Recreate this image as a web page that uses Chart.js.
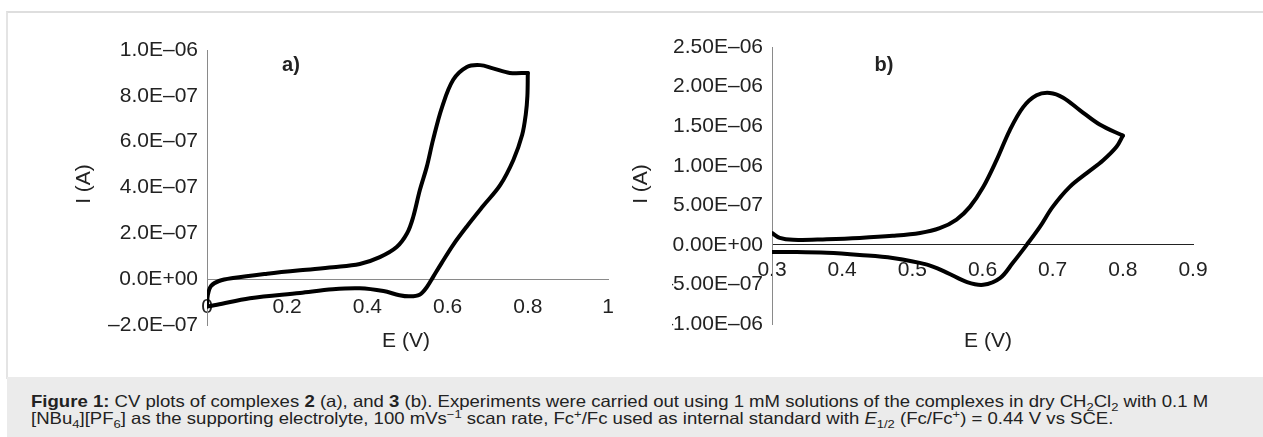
<!DOCTYPE html>
<html>
<head>
<meta charset="utf-8">
<script src="https://cdn.jsdelivr.net/npm/chart.js@4.4.1/dist/chart.umd.min.js"></script>
<style>
  html, body { margin: 0; padding: 0; background: #fff; }
  body { width: 1263px; height: 437px; position: relative; overflow: hidden; font-family: "Liberation Sans", Arial, sans-serif; }
  #frame { position: absolute; left: 6px; top: 11px; width: 1257px; height: 366px; border-top: 2px solid #dedede; border-left: 2px solid #e4e4e4; }
  canvas { position: absolute; top: 0; }
  #cvA { left: 0; }
  #cvB { left: 620px; }
  #caption { position: absolute; left: 7px; top: 377px; right: 0; bottom: 0; background: #ebebeb;
    color: #222; font-size: 16.5px; line-height: 16.5px; padding: 16px 0 0 24px; box-sizing: border-box; white-space: nowrap; }
  #caption .txt { display: inline-block; transform: scaleX(1.125); transform-origin: 0 0; }
  #caption sub, #caption sup { font-size: 70%; line-height: 0; }
</style>
</head>
<body>
<div id="frame"></div>
<canvas id="cvA" width="640" height="377"></canvas>
<canvas id="cvB" width="643" height="377"></canvas>
<div id="caption"><span class="txt"><b>Figure 1:</b> CV plots of complexes <b>2</b> (a), and <b>3</b> (b). Experiments were carried out using 1 mM solutions of the complexes in dry CH<sub>2</sub>Cl<sub>2</sub> with 0.1 M<br>[NBu<sub>4</sub>][PF<sub>6</sub>] as the supporting electrolyte, 100 mVs<sup>&minus;1</sup> scan rate, Fc<sup>+</sup>/Fc used as internal standard with <i>E</i><sub>1/2</sub> (Fc/Fc<sup>+</sup>) = 0.44 V vs SCE.</span></div>
<script>
// complex 2 (a) - forward scan, E in V, I in A
var aFwdE = [0.0, 0.002, 0.01, 0.03, 0.065, 0.15, 0.232, 0.314, 0.381, 0.431, 0.473, 0.499, 0.514, 0.531, 0.548, 0.564, 0.586, 0.614, 0.648, 0.681, 0.713, 0.755, 0.8];
var aFwdI = [-1.15e-7, -0.7e-7, -0.3e-7, -0.08e-7, 0.05e-7, 0.24e-7, 0.39e-7, 0.52e-7, 0.66e-7, 0.96e-7, 1.4e-7, 2.0e-7, 2.7e-7, 3.9e-7, 4.9e-7, 6.1e-7, 7.5e-7, 8.7e-7, 9.26e-7, 9.34e-7, 9.2e-7, 9.0e-7, 9.0e-7];
// complex 2 (a) - reverse scan
var aRevE = [0.8, 0.799, 0.795, 0.786, 0.764, 0.731, 0.689, 0.648, 0.614, 0.585, 0.564, 0.548, 0.53, 0.505, 0.48, 0.44, 0.381, 0.314, 0.232, 0.107, 0.025, 0.0];
var aRevI = [9.0e-7, 8.0e-7, 7.2e-7, 6.3e-7, 5.2e-7, 4.1e-7, 3.2e-7, 2.3e-7, 1.5e-7, 0.7e-7, 0.1e-7, -0.35e-7, -0.68e-7, -0.75e-7, -0.7e-7, -0.52e-7, -0.4e-7, -0.44e-7, -0.6e-7, -0.83e-7, -1.12e-7, -1.2e-7];

// complex 3 (b)
var bFwdE = [0.3, 0.311, 0.33, 0.378, 0.425, 0.472, 0.511, 0.539, 0.563, 0.582, 0.601, 0.62, 0.639, 0.658, 0.677, 0.696, 0.715, 0.739, 0.767, 0.8];
var bFwdI = [1.5e-7, 0.88e-7, 0.63e-7, 0.72e-7, 0.88e-7, 1.14e-7, 1.5e-7, 2.1e-7, 3.2e-7, 4.8e-7, 7.3e-7, 1.07e-6, 1.45e-6, 1.74e-6, 1.89e-6, 1.92e-6, 1.86e-6, 1.70e-6, 1.52e-6, 1.38e-6];
var bRevE = [0.8, 0.791, 0.772, 0.749, 0.724, 0.7, 0.682, 0.663, 0.643, 0.625, 0.601, 0.578, 0.549, 0.521, 0.472, 0.425, 0.378, 0.33, 0.3];
var bRevI = [1.38e-6, 1.24e-6, 1.07e-6, 0.91e-6, 0.73e-6, 0.48e-6, 0.23e-6, 0.0, -2.3e-7, -4.2e-7, -5.05e-7, -4.7e-7, -3.5e-7, -2.5e-7, -1.65e-7, -1.27e-7, -1.0e-7, -0.9e-7, -0.9e-7];

// axis ticks
var aXTicks = [0, 0.2, 0.4, 0.6, 0.8, 1];
var aXLabels = ['0', '0.2', '0.4', '0.6', '0.8', '1'];
var aYTicks = [-2e-7, 0, 2e-7, 4e-7, 6e-7, 8e-7, 1e-6];
var aYLabels = ['\u20132.0E\u201307', '0.0E+00', '2.0E\u201307', '4.0E\u201307', '6.0E\u201307', '8.0E\u201307', '1.0E\u201306'];
var bXTicks = [0.3, 0.4, 0.5, 0.6, 0.7, 0.8, 0.9];
var bXLabels = ['0.3', '0.4', '0.5', '0.6', '0.7', '0.8', '0.9'];
var bYTicks = [-1e-6, -5e-7, 0, 5e-7, 1e-6, 1.5e-6, 2e-6, 2.5e-6];
var bYLabels = ['\u20131.00E\u201306', '\u20135.00E\u201307', '0.00E+00', '5.00E\u201307', '1.00E\u201306', '1.50E\u201306', '2.00E\u201306', '2.50E\u201306'];

var FONT = '"Liberation Sans", Arial, sans-serif';
var tickFont = { family: FONT, size: 21 };
var textColor = '#222';

function pts(xs, ys) {
	return xs.map(function(x, i) { return { x: x, y: ys[i] }; });
}
function curve(d) {
	return { data: d, showLine: true, borderColor: '#000', borderWidth: 4, tension: 0.35,
		pointRadius: 0, borderCapStyle: 'round', borderJoinStyle: 'round', fill: false };
}

// axis titles and panel letters
var panelText = {
	id: 'panelText',
	afterDraw: function(chart, args, opts) {
		var ctx = chart.ctx;
		ctx.save();
		ctx.fillStyle = textColor;
		ctx.textAlign = 'center';
		ctx.textBaseline = 'middle';
		opts.items.forEach(function(t) {
			ctx.font = t.font;
			ctx.save();
			ctx.translate(t.x, t.y);
			if (t.rot) ctx.rotate(t.rot);
			ctx.fillText(t.text, 0, 0);
			ctx.restore();
		});
		ctx.restore();
	}
};

function makeChart(id, o) {
	return new Chart(document.getElementById(id), {
		type: 'scatter',
		data: { datasets: [curve(pts(o.fwdE, o.fwdI)), curve(pts(o.revE, o.revI))] },
		plugins: [panelText],
		options: {
			responsive: false,
			animation: false,
			layout: { padding: o.padding },
			plugins: {
				legend: { display: false },
				tooltip: { enabled: false },
				panelText: { items: o.texts }
			},
			scales: {
				x: {
					type: 'linear', position: { y: 0 }, min: o.xTicks[0], max: o.xTicks[o.xTicks.length - 1],
					afterFit: function(s) { s.height = 0; },
					afterBuildTicks: function(s) { s.ticks = o.xTicks.map(function(v) { return { value: v }; }); },
					grid: { display: false, drawTicks: false },
					border: { color: o.zeroColor, width: 1 },
					ticks: { callback: function(v, i) { return o.xLabels[i]; }, padding: o.xPad,
						font: tickFont, color: textColor, maxRotation: 0, autoSkip: false }
				},
				y: {
					type: 'linear', min: o.yTicks[0], max: o.yTicks[o.yTicks.length - 1],
					afterFit: function(s) { s.width = o.yWidth; },
					afterBuildTicks: function(s) { s.ticks = o.yTicks.map(function(v) { return { value: v }; }); },
					grid: { display: false, drawTicks: false },
					border: { color: '#8a8a8a', width: 1 },
					ticks: { callback: function(v, i) { return o.yLabels[i]; }, padding: 9,
						font: tickFont, color: textColor, autoSkip: false }
				}
			}
		}
	});
}

makeChart('cvA', {
	fwdE: aFwdE, fwdI: aFwdI, revE: aRevE, revI: aRevI,
	xTicks: aXTicks, xLabels: aXLabels, yTicks: aYTicks, yLabels: aYLabels,
	padding: { left: 87, top: 50, right: 32, bottom: 52 }, yWidth: 120, xPad: 15, zeroColor: '#8a8a8a',
	texts: [
		{ text: 'I (A)', x: 84, y: 184, rot: -Math.PI / 2, font: '21px ' + FONT },
		{ text: 'E (V)', x: 406, y: 341, font: '21px ' + FONT },
		{ text: 'a)', x: 291, y: 65, font: 'bold 20px ' + FONT }
	]
});

makeChart('cvB', {
	fwdE: bFwdE, fwdI: bFwdI, revE: bRevE, revI: bRevI,
	xTicks: bXTicks, xLabels: bXLabels, yTicks: bYTicks, yLabels: bYLabels,
	padding: { left: 52, top: 47, right: 70, bottom: 53 }, yWidth: 100, xPad: 13, zeroColor: '#222',
	texts: [
		{ text: 'I (A)', x: 21, y: 184, rot: -Math.PI / 2, font: '21px ' + FONT },
		{ text: 'E (V)', x: 368, y: 341, font: '21px ' + FONT },
		{ text: 'b)', x: 264, y: 65, font: 'bold 20px ' + FONT }
	]
});
</script>
</body>
</html>
